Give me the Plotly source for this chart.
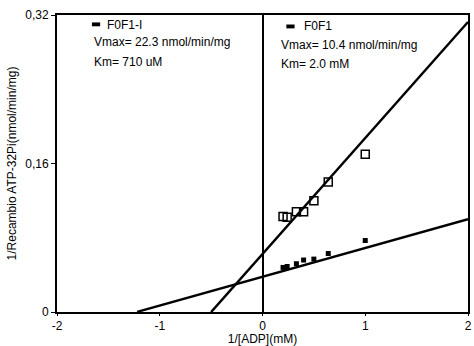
import plotly.graph_objects as go
import numpy as np

# F0F1 (open squares, upper line)
x_f0f1 = [0.20, 0.24, 0.33, 0.40, 0.50, 0.64, 1.00]
y_f0f1 = [0.103, 0.102, 0.108, 0.108, 0.120, 0.140, 0.170]
# F0F1-I (small filled squares, lower line)
x_f0f1i = [0.20, 0.24, 0.33, 0.40, 0.50, 0.64, 1.00]
y_f0f1i = [0.048, 0.049, 0.052, 0.056, 0.057, 0.063, 0.077]

# Fitted lines (x-intercept, end x, intercept, slope)
fit_f0f1 = dict(x0=-0.5, x1=2.0, b=0.0625, m=0.125)
fit_f0f1i = dict(x0=-1.22, x1=2.0, b=0.038, m=0.031)

x_ticks = [-2, -1, 0, 1, 2]
x_ticklabels = ["-2", "-1", "0", "1", "2"]
y_ticks = [0, 0.16, 0.32]
y_ticklabels = ["0", "0,16", "0,32"]

FONT = "Liberation Sans, Arial, sans-serif"

fig = go.Figure()
for fit in (fit_f0f1, fit_f0f1i):
    xs = np.array([fit["x0"], fit["x1"]])
    fig.add_trace(go.Scatter(x=xs, y=fit["b"] + fit["m"] * xs, mode="lines",
                             line=dict(color="black", width=2.5), showlegend=False))
fig.add_trace(go.Scatter(x=x_f0f1, y=y_f0f1, mode="markers",
                         marker=dict(symbol="square-open", size=8, color="black",
                                     line=dict(width=1.5, color="black")),
                         showlegend=False))
fig.add_trace(go.Scatter(x=x_f0f1i, y=y_f0f1i, mode="markers",
                         marker=dict(symbol="square", size=5, color="black"),
                         showlegend=False))

# legend markers (shapes in paper coords)
fig.add_shape(type="rect", xref="paper", yref="paper", x0=0.085, x1=0.105,
              y0=0.962, y1=0.975, fillcolor="black", line=dict(width=0))
fig.add_shape(type="rect", xref="paper", yref="paper", x0=0.558, x1=0.578,
              y0=0.955, y1=0.968, fillcolor="black", line=dict(width=0))

ann = [
    (0.118, 0.968, "F0F1-I"),
    (0.085, 0.908, "Vmax= 22.3 nmol/min/mg"),
    (0.085, 0.842, "Km= 710 uM"),
    (0.597, 0.962, "F0F1"),
    (0.540, 0.898, "Vmax= 10.4 nmol/min/mg"),
    (0.540, 0.835, "Km= 2.0 mM"),
]
for x, y, t in ann:
    fig.add_annotation(x=x, y=y, xref="paper", yref="paper", text=t, showarrow=False,
                       xanchor="left", yanchor="middle",
                       font=dict(family=FONT, size=12, color="black"))

fig.update_layout(
    width=474, height=346,
    margin=dict(l=57, r=2, t=15, b=34),
    paper_bgcolor="white", plot_bgcolor="white",
    font=dict(family=FONT, size=12, color="black"),
    showlegend=False,
)
fig.update_xaxes(range=[-2, 2], tickvals=x_ticks, ticktext=x_ticklabels,
                 showgrid=False, showline=True, linecolor="black", linewidth=2,
                 mirror=True, ticks="outside", ticklen=2, tickcolor="black",
                 zeroline=True, zerolinecolor="black", zerolinewidth=1.5,
                 title=dict(text="1/[ADP](mM)", standoff=0,
                            font=dict(family=FONT, size=12)),
                 tickfont=dict(family=FONT, size=12))
fig.update_yaxes(range=[0, 0.32], tickvals=y_ticks, ticktext=y_ticklabels,
                 showgrid=False, showline=True, linecolor="black", linewidth=2,
                 mirror=True, ticks="outside", ticklen=4, tickcolor="black",
                 zeroline=False,
                 title=dict(text="1/Recambio ATP-32Pi(nmol/min/mg)", standoff=6,
                            font=dict(family=FONT, size=12)),
                 tickfont=dict(family=FONT, size=12))

fig.write_html("out.html")
